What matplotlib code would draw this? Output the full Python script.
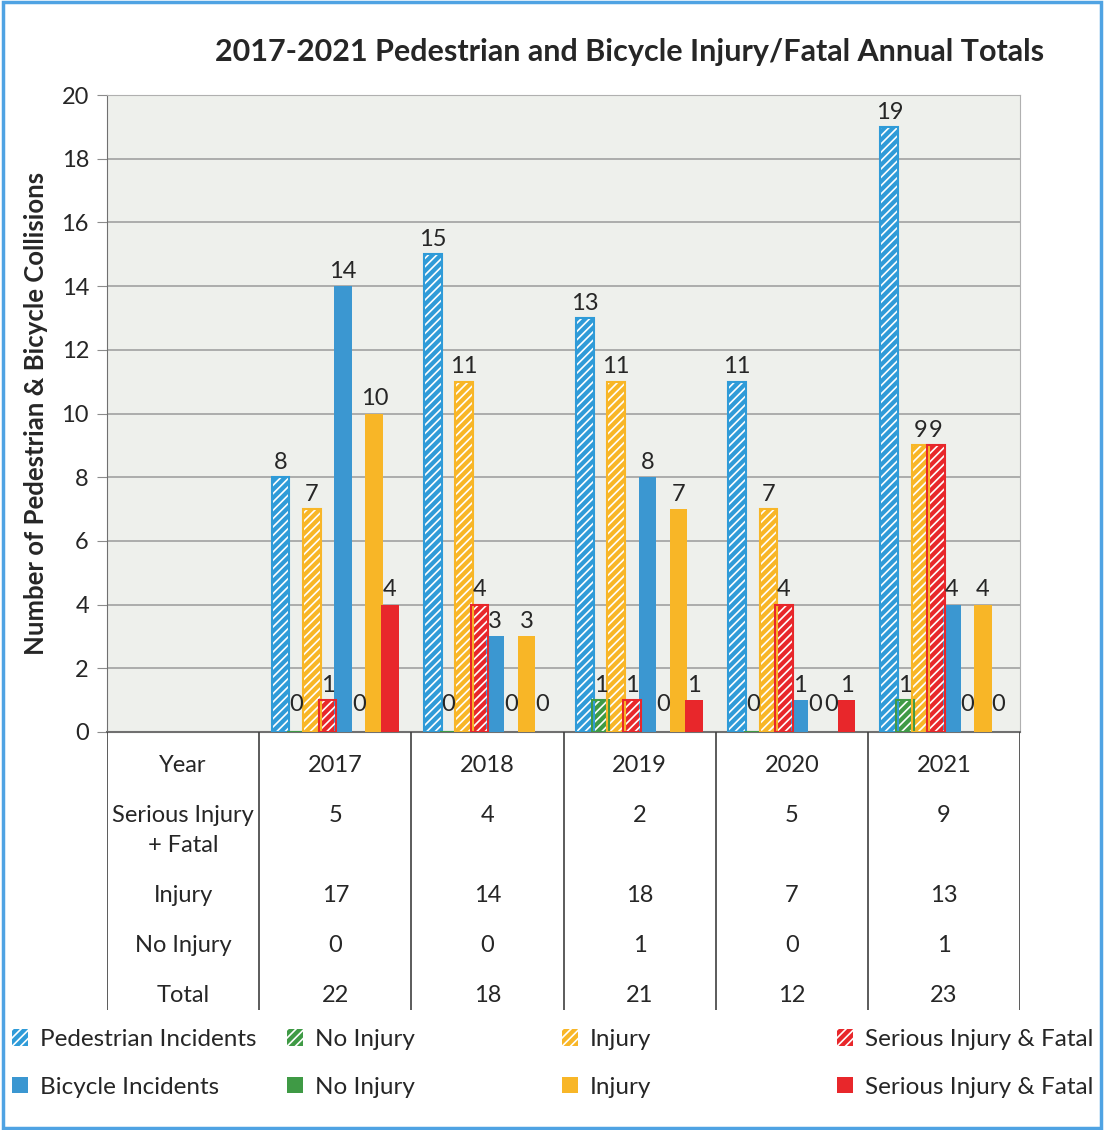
import numpy as np
import matplotlib
matplotlib.use('Agg')
import matplotlib.pyplot as plt
from matplotlib.patches import Patch, Rectangle

plt.rcParams['font.family'] = ['Lato', 'DejaVu Sans']
plt.rcParams['hatch.linewidth'] = 1.2

# Datos
years = ['2017', '2018', '2019', '2020', '2021']
ped_total = [8, 15, 13, 11, 19]
ped_noinj = [0, 0, 1, 0, 1]
ped_inj = [7, 11, 11, 7, 9]
ped_serious = [1, 4, 1, 4, 9]
bike_total = [14, 3, 8, 1, 4]
bike_noinj = [0, 0, 0, 0, 0]
bike_inj = [10, 3, 7, 0, 4]
bike_serious = [4, 0, 1, 1, 0]

# Tabla de totales
row_labels = ['Year', 'Serious Injury\n+ Fatal', 'Injury', 'No Injury', 'Total']
tbl_serious = [5, 4, 2, 5, 9]
tbl_injury = [17, 14, 18, 7, 13]
tbl_noinj = [0, 0, 1, 0, 1]
tbl_total = [22, 18, 21, 12, 23]

BLUE = '#2f9bd8'
BLUE_S = '#3b97d1'
GREEN = '#3f9a45'
YELLOW = '#f8b627'
RED = '#e8272b'
TXT = '#262626'
HATCH = '////'

series = [
    (ped_total, BLUE, True, 'Pedestrian Incidents'),
    (ped_noinj, GREEN, True, 'No Injury'),
    (ped_inj, YELLOW, True, 'Injury'),
    (ped_serious, RED, True, 'Serious Injury & Fatal'),
    (bike_total, BLUE_S, False, 'Bicycle Incidents'),
    (bike_noinj, GREEN, False, 'No Injury'),
    (bike_inj, YELLOW, False, 'Injury'),
    (bike_serious, RED, False, 'Serious Injury & Fatal'),
]

W, H = 1107, 1130
FS = 17
fig = plt.figure(figsize=(W / 100, H / 100), dpi=100)

# marco azul de la figura
fig.patches.append(Rectangle((3 / W, 2 / H), 1098 / W, 1126 / H, transform=fig.transFigure,
                             fill=False, edgecolor='#4fa3e3', lw=2.5))

left, right = 107 / W, 1020 / W
ax = fig.add_axes([left, 1 - 732 / H, right - left, (732 - 95) / H])
ax.set_facecolor('#eef0ec')

x = np.arange(1, len(years) + 1)
step = 0.1026
bw = 0.116
for i, (vals, col, hatched, lab) in enumerate(series):
    xs = x + (i - 3.5) * step
    bars = ax.bar(xs, vals, bw, color=col, lw=0, zorder=3)
    if hatched:
        ax.bar(xs, vals, bw, facecolor='none', edgecolor='white', hatch=HATCH, lw=0, zorder=4)
        ax.bar(xs, vals, bw, facecolor='none', edgecolor=col, lw=1.5, zorder=5)
    anns = ax.bar_label(bars, padding=3, fontsize=FS, color=TXT, zorder=6)
    # los ceros van un poco más arriba, como en el original
    for a, v in zip(anns, vals):
        if v == 0:
            a.xyann = (0, 12)

ax.set_xlim(-0.5, 5.5)
ax.set_ylim(0, 20)
ax.set_yticks(range(0, 21, 2))
ax.tick_params(axis='y', labelsize=FS, colors='#8c8c8c', labelcolor=TXT, length=7, pad=6)
ax.set_xticks([])
ax.grid(axis='y', color='#9a9a9a', lw=1.1, zorder=0)
for s in ['top', 'right']:
    ax.spines[s].set_color('#b0b0b0')
ax.spines['left'].set_color('#707070')
ax.spines['bottom'].set_color('#707070')
ax.spines['bottom'].set_linewidth(1.5)
ax.set_ylabel('Number of Pedestrian & Bicycle Collisions', fontsize=18.5,
              fontweight='bold', color=TXT, labelpad=10)

fig.text(0.569, 1 - 52 / H, '2017-2021 Pedestrian and Bicycle Injury/Fatal Annual Totals',
         ha='center', va='center', fontsize=22, fontweight='bold', color=TXT)

# tabla debajo del gráfico
tax = fig.add_axes([left, 1 - 1010 / H, right - left, (1010 - 732) / H])
tax.set_xlim(-0.5, 5.5)
tax.set_ylim(1010, 732)
tax.axis('off')
for b in np.arange(-0.5, 6, 1.0):
    tax.axvline(b, color='#404040', lw=1.2)
row_y = [766, 816, 896, 946, 995]
cols = [years, tbl_serious, tbl_injury, tbl_noinj, tbl_total]
for ry, lab, vals in zip(row_y, row_labels, cols):
    for j, part in enumerate(lab.split('\n')):
        tax.text(0, ry + 30 * j, part, ha='center', va='center', fontsize=FS, color=TXT)
    for xi, v in zip(x, vals):
        tax.text(xi, ry, str(v), ha='center', va='center', fontsize=FS, color=TXT)

# leyenda: cuatro columnas de dos filas
col_x = [12, 287, 562, 837]
for k in range(4):
    hp = series[k]
    hb = series[k + 4]
    handles = [Patch(facecolor=hp[1], edgecolor='white', hatch=HATCH, lw=0),
               Patch(facecolor=hb[1], lw=0)]
    fig.legend(handles, [hp[3], hb[3]], loc='upper left',
               bbox_to_anchor=(col_x[k] / W, 1 - 1029 / H), frameon=False,
               borderpad=0, borderaxespad=0,
               fontsize=17.5, handlelength=0.65, handleheight=0.65,
               handletextpad=0.5, labelspacing=1.1, labelcolor=TXT)

fig.savefig('out.png', dpi=100)
